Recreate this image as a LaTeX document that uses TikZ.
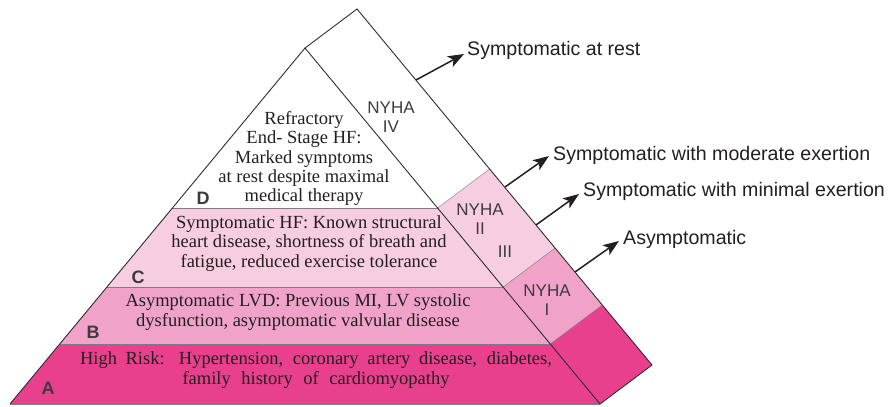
\documentclass[tikz,border=0pt]{standalone}
\usepackage{fontspec}
\setmainfont{Liberation Serif}
\setsansfont{Liberation Sans}
\usetikzlibrary{arrows.meta}
\definecolor{hotpink}{RGB}{233,64,141}
\definecolor{midpink}{RGB}{240,162,200}
\definecolor{lightpink}{RGB}{246,205,225}
\definecolor{edgegray}{RGB}{45,45,45}
\definecolor{bandline}{RGB}{125,125,125}
\definecolor{txt}{RGB}{35,31,32}
\definecolor{lettc}{RGB}{60,60,60}
\tikzset{
  edge/.style={draw=edgegray, line width=0.9pt, line join=miter},
  bandsep/.style={draw=bandline, line width=1pt},
  stage/.style={font=\fontsize{18.5}{19.3}\selectfont, text=txt, align=center, inner sep=0pt},
  letter/.style={font=\sffamily\bfseries\fontsize{18}{18}\selectfont, text=lettc, inner sep=0pt},
  nyha/.style={font=\sffamily\fontsize{17}{19.5}\selectfont, text=lettc, align=center, inner sep=0pt},
  lab/.style={font=\sffamily\fontsize{19.6}{20}\selectfont, text=txt, inner sep=0pt, anchor=base west},
  arr/.style={draw=txt, line width=1.5pt, -{Stealth[length=16pt,width=12pt,inset=4pt]}}
}
\begin{document}
\begin{tikzpicture}[x=1pt,y=-1pt]
\useasboundingbox (0,0) rectangle (889,407);
% main corners
\coordinate (F) at (305,48);
\coordinate (L) at (10,404);
\coordinate (R) at (600,404);
\coordinate (T) at (357,9);
\coordinate (S) at (652,365);
% band boundaries on front face
\coordinate (dl) at (172.4,208); \coordinate (dr) at (437.6,208);
\coordinate (cl) at (106.9,287); \coordinate (cr) at (503.1,287);
\coordinate (bl) at (59.7,344);  \coordinate (br) at (550.3,344);
% band boundaries on side strip
\coordinate (ds) at (489.6,169);
\coordinate (cs) at (555.1,248);
\coordinate (bs) at (602.3,305);
% fills
\fill[lightpink] (dl) -- (dr) -- (cr) -- (cl) -- cycle;
\fill[midpink] (cl) -- (cr) -- (br) -- (bl) -- cycle;
\fill[hotpink] (bl) -- (br) -- (R) -- (L) -- cycle;
\fill[lightpink] (dr) -- (ds) -- (cs) -- (cr) -- cycle;
\fill[midpink] (cr) -- (cs) -- (bs) -- (br) -- cycle;
\fill[hotpink] (br) -- (bs) -- (S) -- (R) -- cycle;
% band separators
\draw[bandsep] (dl) -- (dr);
\draw[bandsep] (cl) -- (cr);
\draw[bandsep] (bl) -- (br);
\draw[bandline, line width=0.4pt] (dr) -- (ds);
\draw[bandline, line width=0.4pt] (cr) -- (cs);
\draw[bandline, line width=0.4pt] (br) -- (bs);
\draw[bandsep] (L) -- (R);
% outlines
\draw[edge] (L) -- (F) -- (R);
\draw[edge] (F) -- (T) -- (S) -- (R);
% stage letters
\node[letter] (lA) at (48,388) {A};
\node[letter] (lB) at (93,332) {B};
\node[letter] (lC) at (138,277) {C};
\node[letter] (lD) at (203,198) {D};
% stage texts
\node[stage] (tD) at (304,158.5) {Refractory\\End- Stage HF:\\Marked symptoms\\at rest despite maximal\\medical therapy};
\node[stage] (tC) at (309,243.5) {Symptomatic HF: Known structural\\heart disease, shortness of breath and\\fatigue, reduced exercise tolerance};
\node[stage, font=\fontsize{18.5}{20}\selectfont] (tB) at (298,312) {Asymptomatic LVD: Previous MI, LV systolic\\dysfunction, asymptomatic valvular disease};
\node[stage, font=\fontsize{18.5}{20}\selectfont] (tA) at (316,370) {\makebox[472pt][s]{High Risk: Hypertension, coronary artery disease, diabetes,}\\\makebox[267pt][s]{family history of cardiomyopathy}};
% NYHA labels
\node[nyha] (n4) at (391,117) {NYHA\\IV};
\node[nyha] (n23) at (480,219) {NYHA\\II};
\node[nyha] (n3) at (505,252) {III};
\node[nyha] (n1) at (547,300) {NYHA\\I};
% arrow coordinates
\coordinate (s1) at (416,80);  \coordinate (e1) at (464,54);
\coordinate (s2) at (505,187); \coordinate (e2) at (549,156);
\coordinate (s3) at (536,225); \coordinate (e3) at (579,194);
\coordinate (s4) at (575,272); \coordinate (e4) at (619,241);
\draw[arr] (s1) -- (e1);
\draw[arr] (s2) -- (e2);
\draw[arr] (s3) -- (e3);
\draw[arr] (s4) -- (e4);
% arrow labels
\node[lab] (L1) at (467,55) {Symptomatic at rest};
\node[lab] (L2) at (553,160) {Symptomatic with moderate exertion};
\node[lab] (L3) at (583,196.7) {Symptomatic with minimal exertion};
\node[lab] (L4) at (623,244) {Asymptomatic};
\end{tikzpicture}
\end{document}
